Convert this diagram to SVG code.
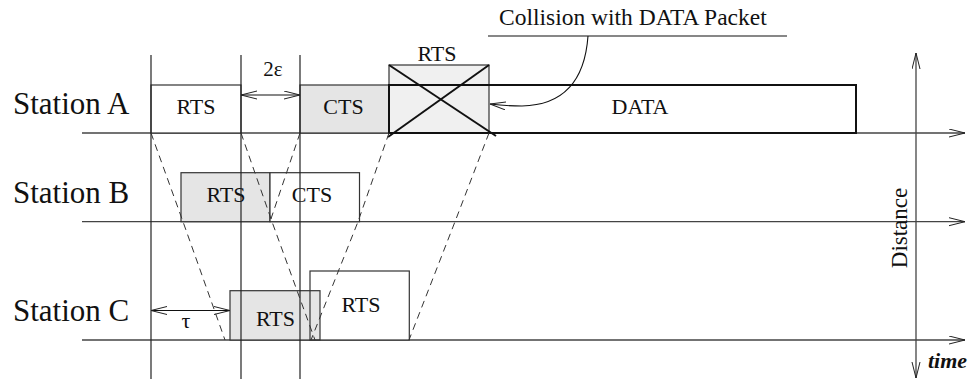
<svg xmlns="http://www.w3.org/2000/svg" width="972" height="379" viewBox="0 0 972 379">
  <style>
    text { font-family: "Liberation Serif", "Times New Roman", serif; fill: #111; }
    .station { font-size: 31px; }
    .lbl { font-size: 22px; text-anchor: middle; }
    .box { stroke: #333; stroke-width: 1.2; }
    .grey { fill: #e5e5e5; }
    .light { fill: #f0f0f0; }
    .white { fill: #fff; }
    .axis { stroke: #444; stroke-width: 1.3; fill: none; }
    .mark { stroke: #222; stroke-width: 1.2; fill: none; }
    .prop { stroke: #333; stroke-width: 1; fill: none; stroke-dasharray: 7 5; }
    .dim { stroke: #111; stroke-width: 1.1; fill: none; }
    .heavy { stroke: #111; stroke-width: 2; fill: none; }
  </style>
  <defs>
    <marker id="open" markerUnits="userSpaceOnUse" markerWidth="18" markerHeight="10" refX="16" refY="4.5" orient="auto-start-reverse">
      <path d="M0,0.5 L16,4.5 L0,8.5" fill="none" stroke="#222" stroke-width="1"/>
    </marker>
  </defs>

  <!-- time axes of the three stations -->
  <g id="axes">
    <line class="axis" x1="82" y1="133" x2="965" y2="133" marker-end="url(#open)"/>
    <line class="axis" x1="82" y1="221.7" x2="965" y2="221.7" marker-end="url(#open)"/>
    <line class="axis" x1="82" y1="340" x2="965" y2="340" marker-end="url(#open)"/>
    <line class="axis" x1="916" y1="378" x2="916" y2="53" marker-start="url(#open)" marker-end="url(#open)"/>
    <text x="906.5" y="228" font-size="23" text-anchor="middle" transform="rotate(-90 906.5 228)">Distance</text>
    <text x="928" y="367.5" font-size="22" font-style="italic" font-weight="bold">time</text>
  </g>

  <!-- station labels -->
  <g id="station-a-label"><text class="station" x="13" y="113.5">Station A</text></g>
  <g id="station-b-label"><text class="station" x="13" y="202.5">Station B</text></g>
  <g id="station-c-label"><text class="station" x="13" y="320.5">Station C</text></g>

  <!-- Station A frames -->
  <g id="a-rts">
    <rect class="box white" x="151" y="85" width="90" height="48"/>
    <text class="lbl" x="196" y="113.5">RTS</text>
  </g>
  <g id="a-cts">
    <rect class="box grey" x="300" y="85" width="89" height="48"/>
    <text class="lbl" x="343.5" y="113.5">CTS</text>
  </g>
  <g id="a-rts-collided">
    <rect class="box light" x="389" y="65" width="100" height="68"/>
    <text class="lbl" x="437" y="61">RTS</text>
  </g>
  <g id="a-data">
    <rect class="heavy" x="389" y="85" width="467" height="48"/>
    <text class="lbl" x="640" y="114">DATA</text>
    <line class="heavy" x1="389" y1="65" x2="496" y2="136"/>
    <line class="heavy" x1="489" y1="65" x2="388" y2="137"/>
  </g>

  <!-- Station B frames -->
  <g id="b-rts">
    <rect class="box grey" x="181" y="172.7" width="89" height="49"/>
    <text class="lbl" x="226" y="201.7">RTS</text>
  </g>
  <g id="b-cts">
    <rect class="box white" x="270" y="172.7" width="89.5" height="49"/>
    <text class="lbl" x="312" y="201.7">CTS</text>
  </g>

  <!-- Station C frames -->
  <g id="c-rts-2">
    <rect class="white" x="310" y="271" width="99.3" height="69"/>
    <text class="lbl" x="361" y="311.7">RTS</text>
  </g>
  <g id="c-rts-1">
    <rect class="box grey" x="230" y="290.7" width="90" height="49.3"/>
    <text class="lbl" x="275.5" y="325.7">RTS</text>
  </g>
  <rect class="box" fill="none" x="310" y="271" width="99.3" height="69"/>

  <!-- connectors: time markers, propagation paths, spacing arrows -->
  <g id="connectors">
    <line class="mark" x1="151" y1="55" x2="151" y2="379"/>
    <line class="mark" x1="241" y1="55" x2="241" y2="379"/>
    <line class="mark" x1="300" y1="55" x2="300" y2="379"/>

    <polyline class="prop" points="151,133 183,221.7 225,340"/>
    <polyline class="prop" points="241,133 272,221.7 315,340"/>
    <polyline class="prop" points="300,133 270,221.7"/>
    <polyline class="prop" points="389,133 358,221.7 311,340"/>
    <polyline class="prop" points="489,133 455,221.7 409,340"/>

    <line class="dim" x1="241" y1="95" x2="300" y2="95" marker-start="url(#open)" marker-end="url(#open)"/>
    <text x="273" y="75.7" font-size="21" text-anchor="middle">2ε</text>

    <line class="dim" x1="151" y1="310.5" x2="230" y2="310.5" marker-start="url(#open)" marker-end="url(#open)"/>
    <text x="186" y="328" font-size="22" text-anchor="middle">τ</text>

    <line class="dim" x1="488" y1="36" x2="787" y2="36"/>
    <text x="499" y="25" font-size="23.5">Collision with DATA Packet</text>
    <path class="dim" d="M588,36 C585,78 566,105 522,106 Q506,106 490,104" marker-end="url(#open)"/>
  </g>
</svg>
